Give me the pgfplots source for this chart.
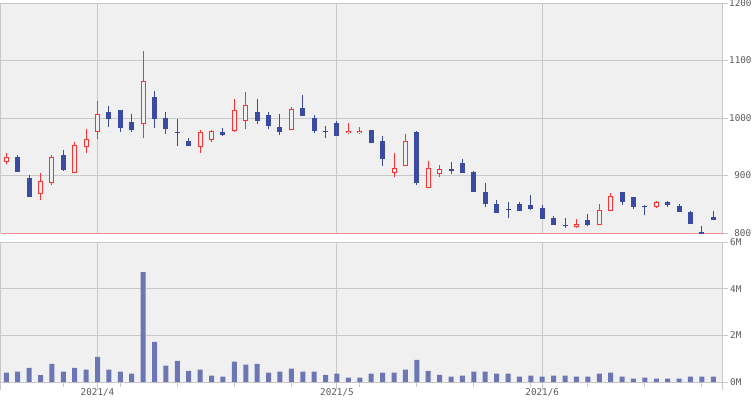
\documentclass[border=0pt]{standalone}
\usepackage{fontspec}
\setmainfont{DejaVu Sans Mono}
\usepackage{pgfplots}
\usepackage{pgfplotstable}
\pgfplotsset{compat=1.18}
\definecolor{bg}{HTML}{F0F0F0}
\definecolor{gridc}{HTML}{C8C8C8}
\definecolor{cred}{HTML}{FF3030}
\definecolor{cblue}{HTML}{3C4BA2}
\definecolor{cvol}{HTML}{6C76B4}
\definecolor{salmon}{HTML}{F08C8C}
\definecolor{labc}{HTML}{5A5A5A}

% bullish candles: index, low, high, open (body low), close (body high)
\pgfplotstableread{
i l h bl bh
0 919.4 939.7 922.9 932.8
3 857.9 903.8 867.3 891.0
4 884.0 935.1 887.5 932.8
6 903.8 958.3 903.8 953.0
7 939.7 981.4 949.6 963.5
8 962.9 1030.1 975.7 1007.0
12 964.6 1117.1 989.6 1064.3
17 938.6 979.7 949.6 975.7
18 957.7 979.7 961.7 977.4
20 975.1 1033.6 977.4 1013.9
21 980.3 1045.8 994.8 1022.6
25 979.1 1019.7 979.1 1015.7
30 971.6 991.9 973.9 978.0
31 971.6 984.9 973.9 978.0
34 896.8 939.7 904.4 913.0
35 916.5 972.8 916.5 960.0
37 878.3 925.2 878.3 913.0
38 896.8 918.8 902.6 911.3
50 808.1 824.9 809.9 815.7
52 813.3 851.0 813.3 840.0
53 837.7 869.6 837.7 864.4
57 843.5 856.2 845.8 854.5
}\bull

% bearish candles: index, low, high, close (body low), open (body high)
\pgfplotstableread{
i l h bl bh
1 906.7 936.2 906.7 932.8
2 863.2 901.4 863.2 896.2
5 908.4 944.9 910.1 936.2
9 984.9 1021.4 997.7 1011.0
10 975.1 1014.5 982.0 1014.5
11 975.1 1007.5 978.6 993.6
13 982.0 1047.5 997.7 1037.1
14 971.6 1011.0 980.3 1000.6
15 950.7 998.8 974.5 975.9
16 950.7 965.8 950.7 960.6
19 968.1 983.2 971.0 976.2
22 989.0 1033.6 994.2 1011.0
23 980.3 1011.0 985.5 1005.8
24 969.9 1007.5 975.1 984.9
26 1002.9 1040.6 1002.9 1018.0
27 973.3 1005.8 976.8 1000.6
28 964.6 986.7 975.1 976.5
29 968.1 995.4 968.1 991.9
32 955.9 979.7 955.9 979.7
33 915.9 969.3 928.1 960.6
36 882.9 978.0 886.4 976.2
39 902.0 924.1 907.2 911.3
40 903.8 929.3 903.8 922.3
41 870.7 908.4 870.7 906.7
42 844.6 886.4 849.9 871.9
43 834.2 858.0 834.2 851.0
44 825.5 854.5 839.4 840.8
45 837.7 854.5 837.7 851.0
46 839.4 866.7 841.2 849.3
47 823.8 849.3 823.8 844.1
48 813.3 829.0 813.3 826.1
49 808.1 826.1 811.6 813.0
51 811.6 833.6 813.3 823.2
54 848.1 871.9 853.3 871.9
55 842.3 863.2 845.8 863.2
56 830.7 849.3 845.2 846.6
58 845.2 856.2 848.1 853.3
59 835.9 851.0 835.9 847.5
60 815.1 838.8 815.1 837.0
61 796.0 812.8 797.0 801.7
62 822.0 838.8 822.0 828.4
}\bear

% volume in millions
\pgfplotstableread{
i v
0 0.40
1 0.44
2 0.61
3 0.30
4 0.78
5 0.44
6 0.61
7 0.53
8 1.08
9 0.53
10 0.44
11 0.36
12 4.71
13 1.72
14 0.70
15 0.91
16 0.48
17 0.53
18 0.27
19 0.23
20 0.87
21 0.74
22 0.78
23 0.40
24 0.44
25 0.57
26 0.44
27 0.44
28 0.31
29 0.36
30 0.19
31 0.19
32 0.36
33 0.40
34 0.40
35 0.53
36 0.95
37 0.48
38 0.31
39 0.23
40 0.27
41 0.44
42 0.44
43 0.36
44 0.36
45 0.23
46 0.27
47 0.23
48 0.27
49 0.27
50 0.23
51 0.23
52 0.36
53 0.40
54 0.23
55 0.14
56 0.19
57 0.14
58 0.14
59 0.14
60 0.23
61 0.23
62 0.23
}\vol

\pgfplotsset{
  panel/.style={
    scale only axis, width=722bp, anchor=north west,
    xmin=-0.491, xmax=62.826,
    axis background/.style={fill=bg},
    axis line style={draw=none},
    grid style={draw=gridc, line width=1bp},
    xmajorgrids, ymajorgrids,
    tick align=outside,
    ytick pos=right, yticklabel pos=right,
    xtick pos=bottom,
    y tick style={draw=gridc, line width=1bp, /pgfplots/major tick length=5bp},
    extra x ticks={-0.491,62.826},
    extra x tick labels={},
    extra x tick style={/pgfplots/major tick length=0pt, grid=major},
    tick label style={font=\fontsize{9.3bp}{10bp}\selectfont, text=labc},
  },
  seg/.style 2 args={draw=none, mark=none, forget plot,
    error bars/.cd, y dir=plus, y explicit, error mark=none,
    error bar style={draw=#1, solid, line width=#2, line cap=butt}},
}

\begin{document}
\begin{tikzpicture}
\useasboundingbox (0,0) rectangle (755bp,-400bp);
% price panel
\begin{axis}[panel,
  at={(0.7bp,-3bp)}, height=230bp,
  ymin=800, ymax=1200,
  xtick={8,29,47}, xticklabels={},
  x tick style={draw=none},
  ytick={900,1000,1100,1200},
  yticklabels={900,1000,1100,1200},
  extra y ticks={800}, extra y tick labels={800},
  extra y tick style={grid style={draw=salmon, line width=1bp}},
  yticklabel style={anchor=west, text width=22bp, align=right, inner sep=0pt, xshift=2bp},
]
% wicks
\addplot[seg={cred}{1bp}] table[x=i, y=l, y error plus expr=\thisrow{h}-\thisrow{l}] {\bull};
\addplot[seg={cblue}{1bp}] table[x=i, y=l, y error plus expr=\thisrow{h}-\thisrow{l}] {\bear};
% bodies
\addplot[seg={cred}{5bp}] table[x=i, y=bl, y error plus expr=\thisrow{bh}-\thisrow{bl}] {\bull};
\addplot[seg={bg}{3bp}] table[x=i, y expr=\thisrow{bl}+1.74, y error plus expr={max(\thisrow{bh}-\thisrow{bl}-3.48,0)}] {\bull};
\addplot[seg={cblue}{5bp}] table[x=i, y=bl, y error plus expr={max(\thisrow{bh}-\thisrow{bl},1.5)}] {\bear};
\end{axis}
% volume panel
\begin{axis}[panel,
  at={(0.7bp,-242bp)}, height=140bp,
  ymin=0, ymax=6,
  ytick={0,2,4,6}, yticklabels={0M,2M,4M,6M},
  yticklabel style={anchor=west, inner sep=0pt, xshift=3bp},
  xtick={8,29,47}, xticklabels={2021/4,2021/5,2021/6},
  minor xtick={5,10,15,20,25,31,36,41,46,51,56,61},
  x tick style={draw=gridc, line width=1bp, /pgfplots/major tick length=8bp, /pgfplots/minor tick length=5bp},
  xticklabel style={inner sep=0pt, yshift=-2bp},
]
\addplot[ybar, bar width=5bp, bar shift=0pt, fill=cvol, draw=none] table[x=i, y=v] {\vol};
\end{axis}
\end{tikzpicture}
\end{document}
